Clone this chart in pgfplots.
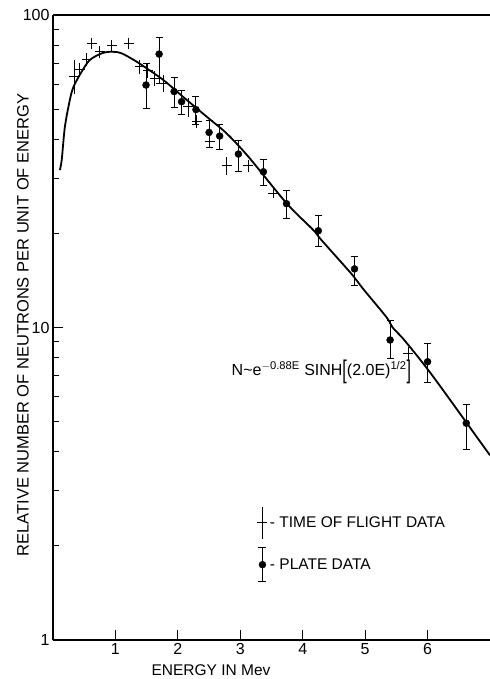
\documentclass[border=0pt]{standalone}
\usepackage{fontspec}
\setmainfont{Liberation Sans}
\usepackage{pgfplots}
\pgfplotsset{compat=1.18}
\usepackage{pgfplotstable}

\pgfplotstableread{
E N
0.11 31.9
0.14 34.4
0.19 43.8
0.27 53.5
0.33 59.0
0.46 65.9
0.59 71.8
0.78 75.4
0.94 76.3
1.10 75.4
1.34 70.9
1.50 67.5
1.77 61.9
2.08 54.8
2.46 47.3
2.78 41.8
3.13 35.2
3.74 25.0
4.17 20.5
4.30 19.05
4.80 14.7
4.96 13.35
5.34 10.8
5.44 10.0
5.63 9.1
6.07 7.05
6.88 4.21
7.00 3.9
}\curve

\pgfplotstableread{
E N ep em
0.34 63.5 8.3 7.5
0.43 66.7 3.5 3.3
0.54 72.1 3.5 3.5
0.62 81.2 3.5 3.5
0.75 76.3 3.5 3.5
0.94 79.6 3.5 3.5
1.21 81.2 3.5 3.5
1.39 68.3 3.5 3.5
1.52 66.5 3.5 3.5
1.63 62.7 3.3 3.3
1.77 60.4 3.8 3.8
2.17 50.9 3.4 3.6
2.30 45.6 2.4 2.2
2.51 39.3 2.1 1.8
2.78 32.9 2.3 2.2
3.13 33.1 1.2 1.6
3.53 26.9 0.9 0.9
5.69 8.27 0.4 0.4
}\tof

\pgfplotstableread{
E N ep em
1.49 59.7 10.3 9.4
1.70 75.0 9.6 14.6
1.94 56.9 6.2 6.3
2.06 52.8 4.7 4.9
2.29 49.8 5.0 5.3
2.50 42.1 4.0 4.3
2.67 41.0 3.7 4.0
2.97 35.9 3.7 4.4
3.37 31.5 3.1 3.1
3.74 24.9 2.5 2.5
4.25 20.4 2.4 2.3
4.83 15.4 1.5 1.8
5.40 9.12 1.38 1.15
6.00 7.77 1.13 1.11
6.62 4.94 0.75 0.88
}\plate

\begin{document}
\begin{tikzpicture}
\begin{axis}[
  name=ax,
  scale only axis,
  width=437pt, height=625pt,
  xmin=0, xmax=7,
  ymode=log, ymin=1, ymax=100,
  axis x line*=box, axis y line*=left,
  xtick={1,2,3,4,5,6},
  ytick={1,10,100},
  yticklabels={1,10,100},
  xtick pos=bottom, ytick pos=left,
  tick align=inside,
  major tick length=10pt, minor tick length=6pt,
  every tick/.style={black, line width=0.9pt},
  axis line style={line width=1.3pt},
  /pgf/number format/assume math mode=true,
  ticklabel style={font=\fontsize{16}{18}\selectfont},
  xlabel={ENERGY IN Mev},
  ylabel={RELATIVE NUMBER OF NEUTRONS PER UNIT OF ENERGY},
  xlabel style={font=\fontsize{15.5}{17}\selectfont, at={(axis description cs:0.3616,-0.048)}, anchor=center},
  ylabel style={font=\fontsize{16.5}{18}\selectfont, at={(axis description cs:-0.0686,0.504)}, anchor=center},
  legend cell align=left,
  legend style={draw=none, fill=none, at={(axis cs:3.264,2.685)}, anchor=north west,
    inner sep=0pt, row sep=8pt, font=\fontsize{15.5}{17}\selectfont},
]
\addplot[black, line width=1.8pt, smooth, tension=0.5, forget plot] table[x=E, y=N] {\curve};

\addplot[black, only marks, mark=+, mark size=5pt, mark options={line width=1pt},
  legend image code/.code={
    \draw[line width=1pt] (0pt,-16pt) -- (0pt,16pt);
    \draw[line width=1pt] (-5pt,0pt) -- (5pt,0pt);},
  error bars/.cd, y dir=both, y explicit, error mark=none,
  error bar style={line width=1pt}]
  table[x=E, y=N, y error plus=ep, y error minus=em] {\tof};
\addlegendentry{- TIME OF FLIGHT DATA}

\addplot[black, only marks, mark=*, mark size=3.5pt,
  legend image code/.code={
    \draw[line width=1pt] (0pt,-17pt) -- (0pt,17pt);
    \draw[line width=1pt] (-4pt,17pt) -- (4pt,17pt);
    \draw[line width=1pt] (-4pt,-17pt) -- (4pt,-17pt);
    \fill (0pt,0pt) circle (3.5pt);},
  error bars/.cd, y dir=both, y explicit,
  error bar style={line width=1pt},
  error mark options={rotate=90, mark size=3.5pt, line width=1pt}]
  table[x=E, y=N, y error plus=ep, y error minus=em] {\plate};
\addlegendentry{- PLATE DATA}

\node[anchor=west, font=\fontsize{16}{18}\selectfont, inner sep=0pt] at (axis cs:2.86,7.2)
  {N\textasciitilde e\textsuperscript{$-$0.88E} SINH\raisebox{-0.4ex}{\scalebox{1}[1.6]{[}}(2.0E)\textsuperscript{1/2}\raisebox{-0.4ex}{\scalebox{1}[1.6]{]}}};
\end{axis}
\pgfresetboundingbox
\path[use as bounding box] ([xshift=-53pt,yshift=-39pt]ax.south west) rectangle ([yshift=15pt]ax.north east);
\end{tikzpicture}
\end{document}
